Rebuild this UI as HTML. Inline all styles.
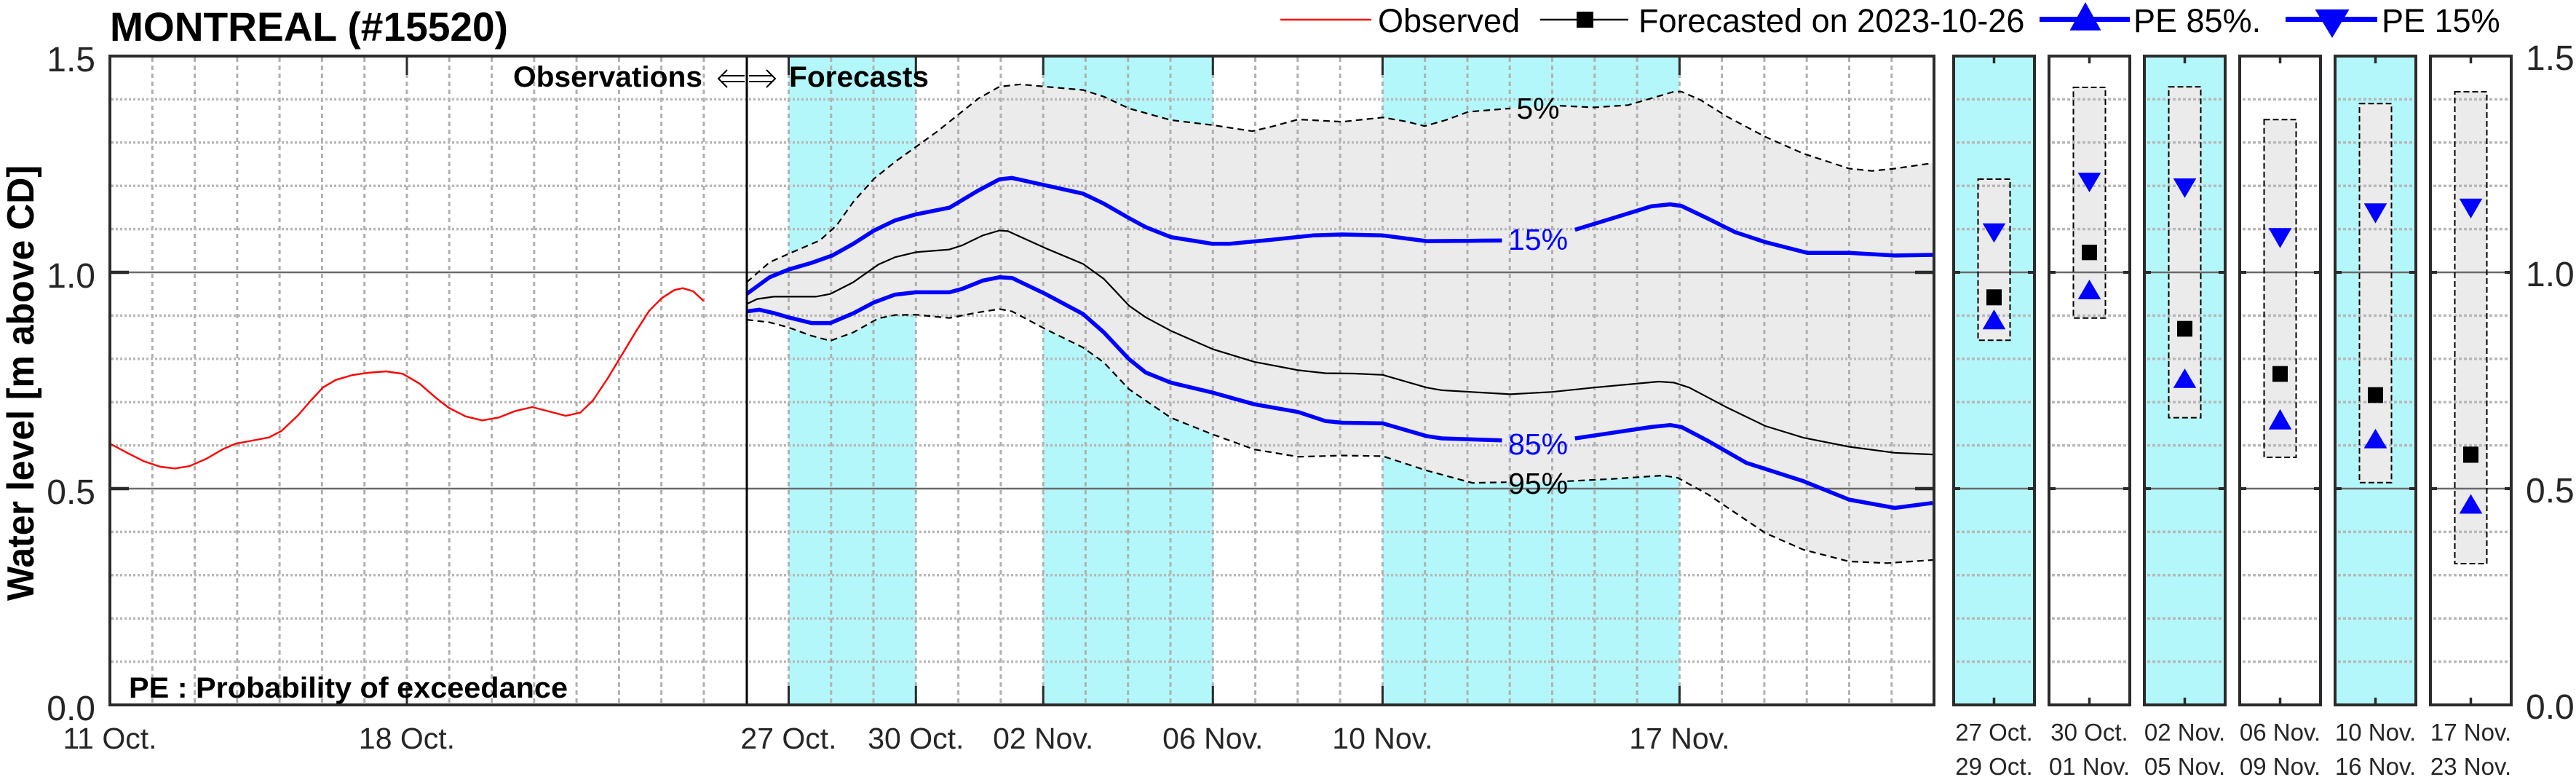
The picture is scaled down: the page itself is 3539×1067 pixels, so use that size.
<!DOCTYPE html>
<html><head><meta charset="utf-8"><style>
html,body{margin:0;padding:0;background:#fff;}
svg{display:block;}
text{font-family:"Liberation Sans",Arial,sans-serif;}
</style></head><body>
<svg xmlns="http://www.w3.org/2000/svg" width="3539" height="1067" viewBox="0 0 3539 1067">
<rect x="0" y="0" width="3539" height="1067" fill="#fff"/>

<!-- ===== MAIN PLOT ===== -->
<!-- cyan bands -->
<g fill="#b3f7fa">
<rect x="1083.5" y="77" width="174.8" height="891"/>
<rect x="1433.2" y="77" width="233.1" height="891"/>
<rect x="1899.4" y="77" width="408" height="891"/>
</g>

<!-- gray envelope 5%-95% -->
<polygon fill="#ebebeb" points="1025.8,387.6 1057.4,360.1 1083.2,348.6 1126.3,330.2 1149.3,309.6 1172.2,277.4 1200.9,245.3 1229.6,222.3 1258.3,201.7 1287,181 1315.7,158.1 1344.4,135.1 1373.1,119 1401.8,115.8 1436.3,119 1487.9,123.6 1516.6,132.8 1551.1,148.9 1608.5,164.9 1665.9,171.8 1720.4,180.1 1746.3,174.1 1783.6,164 1843.9,167.2 1899.7,161.3 1933.7,167.2 1957.2,173.2 1986,165 2017.4,153.5 2074.9,148.9 2108,147 2142.9,145.2 2190,147.5 2237,144.3 2268.4,135.1 2299.8,125.9 2310.2,125.9 2336.4,137.4 2373,160.3 2425.3,187.9 2477.6,210.9 2540.4,231.5 2571.8,234.7 2603.1,231.5 2655,224 2655,769 2592.7,773.3 2540.4,771 2477.6,754.9 2425.3,732 2346.9,679.2 2305,656.2 2284.1,653 2216.1,657.6 2153.3,660.8 2110,661.5 2069.7,662.2 2022.6,663.1 1959.8,646.1 1899.7,626.4 1843.9,625.5 1783.6,627.3 1723.3,617.2 1665.9,596.5 1608.5,573.6 1551.1,534.5 1516.6,497.8 1487.9,477.2 1436.3,451.9 1390.4,427.6 1373.1,424.4 1344.4,428.9 1304.3,436.7 1258.3,432.2 1229.6,432.6 1206.7,437.2 1172.2,456.5 1140.6,468 1114.8,461.1 1083.2,449.6 1057.4,442.7 1025.8,439"/>

<!-- vertical dashed grid -->
<path fill="none" stroke="#b0b0b0" stroke-width="3" stroke-dasharray="6,5" d="M209.3 79V966M267.6 79V966M325.8 79V966M384.1 79V966M442.4 79V966M500.7 79V966M559 79V966M617.2 79V966M675.5 79V966M733.8 79V966M792.1 79V966M850.4 79V966M908.6 79V966M966.9 79V966M1083.5 79V966M1141.8 79V966M1200 79V966M1258.3 79V966M1316.6 79V966M1374.9 79V966M1433.2 79V966M1491.4 79V966M1549.7 79V966M1608 79V966M1666.3 79V966M1724.6 79V966M1782.8 79V966M1841.1 79V966M1899.4 79V966M1957.7 79V966M2016 79V966M2074.2 79V966M2132.5 79V966M2190.8 79V966M2249.1 79V966M2307.4 79V966M2365.6 79V966M2423.9 79V966M2482.2 79V966M2540.5 79V966M2598.8 79V966"/>
<!-- horizontal dotted grid -->
<path fill="none" stroke="#b8b8b8" stroke-width="3.5" stroke-dasharray="3,3" d="M153 908.6H2655M153 849.2H2655M153 789.8H2655M153 730.4H2655M153 611.6H2655M153 552.2H2655M153 492.8H2655M153 433.4H2655M153 314.6H2655M153 255.2H2655M153 195.8H2655M153 136.4H2655"/>
<!-- 1.0 and 0.5 solid lines -->
<path fill="none" stroke="#6a6a6a" stroke-width="2.5" d="M151 374H2657M151 671H2657"/>

<!-- 5% dashed -->
<polyline fill="none" stroke="#000" stroke-width="2.2" stroke-dasharray="9,6" stroke-linejoin="round" points="1025.8,387.6 1057.4,360.1 1083.2,348.6 1126.3,330.2 1149.3,309.6 1172.2,277.4 1200.9,245.3 1229.6,222.3 1258.3,201.7 1287,181 1315.7,158.1 1344.4,135.1 1373.1,119 1401.8,115.8 1436.3,119 1487.9,123.6 1516.6,132.8 1551.1,148.9 1608.5,164.9 1665.9,171.8 1720.4,180.1 1746.3,174.1 1783.6,164 1843.9,167.2 1899.7,161.3 1933.7,167.2 1957.2,173.2 1986,165 2017.4,153.5 2074.9,148.9"/>
<polyline fill="none" stroke="#000" stroke-width="2.2" stroke-dasharray="9,6" stroke-linejoin="round" points="2142.9,145.2 2190,147.5 2237,144.3 2268.4,135.1 2299.8,125.9 2310.2,125.9 2336.4,137.4 2373,160.3 2425.3,187.9 2477.6,210.9 2540.4,231.5 2571.8,234.7 2603.1,231.5 2655,224"/>
<!-- 95% dashed -->
<polyline fill="none" stroke="#000" stroke-width="2.2" stroke-dasharray="9,6" stroke-linejoin="round" points="1025.8,439 1057.4,442.7 1083.2,449.6 1114.8,461.1 1140.6,468 1172.2,456.5 1206.7,437.2 1229.6,432.6 1258.3,432.2 1304.3,436.7 1344.4,428.9 1373.1,424.4 1390.4,427.6 1436.3,451.9 1487.9,477.2 1516.6,497.8 1551.1,534.5 1608.5,573.6 1665.9,596.5 1723.3,617.2 1783.6,627.3 1843.9,625.5 1899.7,626.4 1959.8,646.1 2022.6,663.1 2069.7,662.2"/>
<polyline fill="none" stroke="#000" stroke-width="2.2" stroke-dasharray="9,6" stroke-linejoin="round" points="2153.3,660.8 2216.1,657.6 2284.1,653 2305,656.2 2346.9,679.2 2425.3,732 2477.6,754.9 2540.4,771 2592.7,773.3 2655,769"/>

<!-- median -->
<polyline fill="none" stroke="#000" stroke-width="2.2" stroke-linejoin="round" points="1025.8,417.5 1040.2,410.6 1063.1,407.4 1083.2,407.4 1120.6,407.4 1140.6,403.7 1172.2,387.6 1206.7,363.3 1229.6,353.2 1258.3,346.3 1304.3,342.6 1321.5,337.1 1350.2,323.3 1373.1,316.5 1384.6,317.4 1436.3,340.8 1487.9,362.4 1516.6,383 1551.1,419.8 1574.1,435.8 1608.5,454.2 1665.9,479.4 1723.3,496.9 1783.6,508.4 1820.9,512.5 1861.1,513 1899.7,514.8 1959.8,532.2 1980.8,535.9 2074.9,541.4 2132.4,538.2 2190,532.2 2278.9,524 2299.8,525.4 2320.7,532.2 2373,559.8 2425.3,585 2477.6,601.1 2540.4,613.5 2603.1,621.8 2655,624.1"/>

<!-- 15% blue -->
<polyline fill="none" stroke="#0000ff" stroke-width="5.5" stroke-linejoin="round" stroke-linecap="butt" points="1025.8,403.7 1057.4,380.7 1083.2,370.2 1114.8,361 1143.5,350.9 1172.2,334.8 1200.9,316.5 1229.6,302.7 1258.3,294.4 1304.3,285.2 1344.4,261.4 1373.1,246.2 1390.4,244.4 1436.3,254.5 1487.9,265.9 1516.6,279.7 1551.1,299.5 1574.1,311.9 1608.5,325.6 1665.9,334.8 1688.9,334.8 1746.3,329.3 1803.7,323.3 1843.9,322 1899.7,323.3 1959.8,331.1 2017.4,330.7 2063.4,330.2"/>
<polyline fill="none" stroke="#0000ff" stroke-width="5.5" stroke-linejoin="round" points="2163.8,315.5 2216.1,299.5 2268.4,283.4 2294.6,280.6 2310.2,282.9 2346.9,300.4 2383.5,318.7 2425.3,332.5 2482.8,347.2 2540.4,347.2 2603.1,350.9 2655,350"/>
<!-- 85% blue -->
<polyline fill="none" stroke="#0000ff" stroke-width="5.5" stroke-linejoin="round" points="1025.8,427.6 1043.1,425.3 1063.1,429.9 1083.2,435.8 1114.8,443.6 1140.6,443.6 1172.2,430.3 1200.9,415.2 1229.6,404.6 1258.3,401.4 1304.3,401.4 1321.5,396.8 1350.2,385.3 1373.1,380.7 1390.4,381.7 1436.3,403.7 1487.9,431.2 1516.6,456.5 1551.1,493.2 1574.1,511.6 1608.5,525.4 1665.9,539.1 1723.3,555.2 1783.6,565.8 1820.9,578.2 1843.9,580.5 1899.7,581.4 1959.8,598.8 1980.8,602 2063.4,604.8"/>
<polyline fill="none" stroke="#0000ff" stroke-width="5.5" stroke-linejoin="round" points="2163.8,602 2216.1,594.2 2268.4,586.4 2294.6,583.7 2310.2,586.4 2346.9,605.7 2399.2,635.6 2477.6,660.8 2540.4,686.1 2603.1,697.5 2655,690.7"/>

<!-- observed red -->
<polyline fill="none" stroke="#ff0000" stroke-width="2.4" stroke-linejoin="round" points="152.6,610 174.4,621.7 197.4,633.3 220.4,641 240.5,643.3 260.6,640 283.5,630 306.5,616.7 323.7,609.3 346.7,605 369.6,600.7 386.8,591.7 409.8,570 427,550 444.2,531.7 461.5,521.7 484.4,515 507.4,511.7 530.4,510 553.3,513.3 576.3,526.7 599.3,546.7 616.5,560 639.4,571.7 662.4,577.3 685.4,573.3 708.3,564.3 731.3,559 754.2,565 777.2,571 797.3,566.7 814.5,550 834.6,520 854.7,486.7 874.8,453.3 892,426.7 909.2,409.3 926.5,398.3 937.9,395.7 952.3,400 966.6,413.3"/>

<!-- inline percent labels -->
<g font-size="41" text-anchor="middle">
<text x="2113" y="163" fill="#000">5%</text>
<text x="2113" y="343" fill="#0000ff">15%</text>
<text x="2113" y="624" fill="#0000ff">85%</text>
<text x="2113" y="678" fill="#000">95%</text>
</g>

<!-- divider -->
<line x1="1026" y1="77" x2="1026" y2="968" stroke="#000" stroke-width="3"/>

<!-- main ticks -->
<path fill="none" stroke="#2b2b2b" stroke-width="3" d="M559 77V103M1083.5 77V103M1258.3 77V103M1433.2 77V103M1666.3 77V103M1899.4 77V103M2307.4 77V103M559 968V942M1083.5 968V942M1258.3 968V942M1433.2 968V942M1666.3 968V942M1899.4 968V942M2307.4 968V942"/>
<path fill="none" stroke="#2b2b2b" stroke-width="4.5" d="M151 374H177M151 671H177M2657 374H2631M2657 671H2631"/>
<!-- main border -->
<rect x="151" y="77" width="2506" height="891" fill="none" stroke="#2b2b2b" stroke-width="4"/>

<!-- Observations <=> Forecasts -->
<text x="965" y="119" font-size="40" font-weight="bold" text-anchor="end" textLength="260" lengthAdjust="spacingAndGlyphs">Observations</text>
<text x="1084" y="119" font-size="40" font-weight="bold" textLength="192" lengthAdjust="spacingAndGlyphs">Forecasts</text>
<g fill="none" stroke="#000" stroke-width="2">
<path d="M992 104H1023M992 112H1023M999 96L987 108L999 120"/>
<path d="M1029 104H1060M1029 112H1060M1053 96L1065 108L1053 120"/>
</g>

<text x="177" y="958" font-size="40" font-weight="bold" textLength="603" lengthAdjust="spacingAndGlyphs">PE : Probability of exceedance</text>

<!-- title -->
<text x="151" y="56" font-size="56" font-weight="bold" textLength="547" lengthAdjust="spacingAndGlyphs">MONTREAL (#15520)</text>

<!-- y label -->
<text transform="translate(46,526) rotate(-90)" font-size="52" font-weight="bold" text-anchor="middle" textLength="598" lengthAdjust="spacingAndGlyphs">Water level [m above CD]</text>

<!-- left y tick labels -->
<g font-size="48" fill="#262626" text-anchor="end">
<text x="131" y="98">1.5</text>
<text x="131" y="395">1.0</text>
<text x="131" y="692">0.5</text>
<text x="131" y="989">0.0</text>
</g>
<!-- right y tick labels -->
<g font-size="48" fill="#262626">
<text x="3470" y="96">1.5</text>
<text x="3470" y="393">1.0</text>
<text x="3470" y="690">0.5</text>
<text x="3470" y="987">0.0</text>
</g>

<!-- main x labels -->
<g font-size="41" fill="#262626" text-anchor="middle">
<text x="151" y="1028">11 Oct.</text>
<text x="559" y="1028">18 Oct.</text>
<text x="1083.5" y="1028">27 Oct.</text>
<text x="1258.3" y="1028">30 Oct.</text>
<text x="1433.2" y="1028">02 Nov.</text>
<text x="1666.3" y="1028">06 Nov.</text>
<text x="1899.4" y="1028">10 Nov.</text>
<text x="2307.4" y="1028">17 Nov.</text>
</g>

<!-- ===== LEGEND ===== -->
<line x1="1759" y1="27" x2="1884" y2="27" stroke="#ff0000" stroke-width="2.5"/>
<text x="1893" y="44" font-size="45">Observed</text>
<line x1="2116" y1="27" x2="2237" y2="27" stroke="#000" stroke-width="2.5"/>
<rect x="2166" y="16" width="23" height="22" fill="#000"/>
<text x="2251" y="44" font-size="45">Forecasted on 2023-10-26</text>
<line x1="2802" y1="26.5" x2="2926" y2="26.5" stroke="#0000ff" stroke-width="7"/>
<polygon points="2865,3 2843.5,41.7 2886.5,41.7" fill="#0000ff"/>
<text x="2931" y="44" font-size="45">PE 85%.</text>
<line x1="3140" y1="26.5" x2="3266" y2="26.5" stroke="#0000ff" stroke-width="7"/>
<polygon points="3180.5,13 3227.5,13 3204,52" fill="#0000ff"/>
<text x="3272" y="44" font-size="45">PE 15%</text>

<!-- ===== RIGHT PANELS ===== -->
<g fill="#b3f7fa">
<rect x="2684" y="77" width="111" height="891"/>
<rect x="2946" y="77" width="111" height="891"/>
<rect x="3208" y="77" width="111" height="891"/>
</g>
<!-- boxes -->
<g fill="#ebebeb">
<rect x="2717.5" y="246" width="44" height="221.3"/>
<rect x="2848.5" y="120" width="44" height="316.7"/>
<rect x="2979.5" y="119.3" width="44" height="454.3"/>
<rect x="3110.5" y="164.3" width="44" height="463.7"/>
<rect x="3241.5" y="142.3" width="44" height="520.4"/>
<rect x="3372.5" y="126" width="44" height="648"/>
</g>
<!-- panel dotted grid -->
<path fill="none" stroke="#b8b8b8" stroke-width="3.5" stroke-dasharray="4,3" d="M2688 908.6H2791M2688 849.2H2791M2688 789.8H2791M2688 730.4H2791M2688 611.6H2791M2688 552.2H2791M2688 492.8H2791M2688 433.4H2791M2688 314.6H2791M2688 255.2H2791M2688 195.8H2791M2688 136.4H2791"/>
<path fill="none" stroke="#b8b8b8" stroke-width="3.5" stroke-dasharray="4,3" d="M2819 908.6H2922M2819 849.2H2922M2819 789.8H2922M2819 730.4H2922M2819 611.6H2922M2819 552.2H2922M2819 492.8H2922M2819 433.4H2922M2819 314.6H2922M2819 255.2H2922M2819 195.8H2922M2819 136.4H2922"/>
<path fill="none" stroke="#b8b8b8" stroke-width="3.5" stroke-dasharray="4,3" d="M2950 908.6H3053M2950 849.2H3053M2950 789.8H3053M2950 730.4H3053M2950 611.6H3053M2950 552.2H3053M2950 492.8H3053M2950 433.4H3053M2950 314.6H3053M2950 255.2H3053M2950 195.8H3053M2950 136.4H3053"/>
<path fill="none" stroke="#b8b8b8" stroke-width="3.5" stroke-dasharray="4,3" d="M3081 908.6H3184M3081 849.2H3184M3081 789.8H3184M3081 730.4H3184M3081 611.6H3184M3081 552.2H3184M3081 492.8H3184M3081 433.4H3184M3081 314.6H3184M3081 255.2H3184M3081 195.8H3184M3081 136.4H3184"/>
<path fill="none" stroke="#b8b8b8" stroke-width="3.5" stroke-dasharray="4,3" d="M3212 908.6H3315M3212 849.2H3315M3212 789.8H3315M3212 730.4H3315M3212 611.6H3315M3212 552.2H3315M3212 492.8H3315M3212 433.4H3315M3212 314.6H3315M3212 255.2H3315M3212 195.8H3315M3212 136.4H3315"/>
<path fill="none" stroke="#b8b8b8" stroke-width="3.5" stroke-dasharray="4,3" d="M3343 908.6H3446M3343 849.2H3446M3343 789.8H3446M3343 730.4H3446M3343 611.6H3446M3343 552.2H3446M3343 492.8H3446M3343 433.4H3446M3343 314.6H3446M3343 255.2H3446M3343 195.8H3446M3343 136.4H3446"/>
<!-- panel 1.0 / 0.5 lines -->
<path fill="none" stroke="#6a6a6a" stroke-width="2.5" d="M2684 374H2795M2684 671H2795M2815 374H2926M2815 671H2926M2946 374H3057M2946 671H3057M3077 374H3188M3077 671H3188M3208 374H3319M3208 671H3319M3339 374H3450M3339 671H3450"/>
<path fill="none" stroke="#2b2b2b" stroke-width="4" d="M2684 374h9M2795 374h-9M2684 671h9M2795 671h-9M2815 374h9M2926 374h-9M2815 671h9M2926 671h-9M2946 374h9M3057 374h-9M2946 671h9M3057 671h-9M3077 374h9M3188 374h-9M3077 671h9M3188 671h-9M3208 374h9M3319 374h-9M3208 671h9M3319 671h-9M3339 374h9M3450 374h-9M3339 671h9M3450 671h-9"/>
<!-- box outlines -->
<g fill="none" stroke="#000" stroke-width="2" stroke-dasharray="8,4">
<rect x="2717.5" y="246" width="44" height="221.3"/>
<rect x="2848.5" y="120" width="44" height="316.7"/>
<rect x="2979.5" y="119.3" width="44" height="454.3"/>
<rect x="3110.5" y="164.3" width="44" height="463.7"/>
<rect x="3241.5" y="142.3" width="44" height="520.4"/>
<rect x="3372.5" y="126" width="44" height="648"/>
</g>
<!-- markers: PE15 (down), median square, PE85 (up) -->
<g fill="#0000ff">
<polygon points="2723.7,306.7 2755.3,306.7 2739.5,333.3"/>
<polygon points="2739.5,425 2723.7,452.3 2755.3,452.3"/>
<polygon points="2854.7,237.3 2886.3,237.3 2870.5,264"/>
<polygon points="2870.5,384 2854.7,411 2886.3,411"/>
<polygon points="2985.7,245 3017.3,245 3001.5,271.7"/>
<polygon points="3001.5,506 2985.7,532.7 3017.3,532.7"/>
<polygon points="3116.7,313.3 3148.3,313.3 3132.5,340.7"/>
<polygon points="3132.5,561.8 3116.7,589.7 3148.3,589.7"/>
<polygon points="3247.7,279.3 3279.3,279.3 3263.5,306.7"/>
<polygon points="3263.5,588.7 3247.7,615.6 3279.3,615.6"/>
<polygon points="3378.7,272.7 3410.3,272.7 3394.5,300"/>
<polygon points="3394.5,678.5 3378.7,705.4 3410.3,705.4"/>
</g>
<g fill="#000">
<rect x="2729" y="397.3" width="21" height="22"/>
<rect x="2860" y="336" width="21" height="21.3"/>
<rect x="2991" y="440.7" width="21" height="21.6"/>
<rect x="3122" y="502.7" width="21" height="21.6"/>
<rect x="3253" y="531.7" width="21" height="21.6"/>
<rect x="3384" y="613.3" width="21" height="22.2"/>
</g>
<!-- panel ticks -->
<path fill="none" stroke="#2b2b2b" stroke-width="3.5" d="M2739.5 77v10M2739.5 968v-10M2870.5 77v10M2870.5 968v-10M3001.5 77v10M3001.5 968v-10M3132.5 77v10M3132.5 968v-10M3263.5 77v10M3263.5 968v-10M3394.5 77v10M3394.5 968v-10"/>
<!-- panel borders -->
<g fill="none" stroke="#2b2b2b" stroke-width="4">
<rect x="2684" y="77" width="111" height="891"/>
<rect x="2815" y="77" width="111" height="891"/>
<rect x="2946" y="77" width="111" height="891"/>
<rect x="3077" y="77" width="111" height="891"/>
<rect x="3208" y="77" width="111" height="891"/>
<rect x="3339" y="77" width="111" height="891"/>
</g>
<!-- panel labels -->
<g font-size="33" fill="#262626" text-anchor="middle">
<text x="2739.5" y="1017">27 Oct.</text>
<text x="2870.5" y="1017">30 Oct.</text>
<text x="3001.5" y="1017">02 Nov.</text>
<text x="3132.5" y="1017">06 Nov.</text>
<text x="3263.5" y="1017">10 Nov.</text>
<text x="3394.5" y="1017">17 Nov.</text>
<text x="2739.5" y="1064">29 Oct.</text>
<text x="2870.5" y="1064">01 Nov.</text>
<text x="3001.5" y="1064">05 Nov.</text>
<text x="3132.5" y="1064">09 Nov.</text>
<text x="3263.5" y="1064">16 Nov.</text>
<text x="3394.5" y="1064">23 Nov.</text>
</g>
</svg>
</body></html>
